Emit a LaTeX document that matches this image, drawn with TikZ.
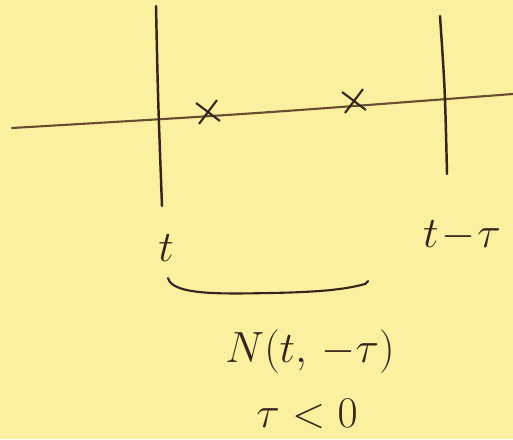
\documentclass[tikz,border=0pt]{standalone}
\usepackage{amsmath}
\usetikzlibrary{shapes.misc}

\definecolor{paper}{RGB}{250,240,160}
\definecolor{ink}{RGB}{55,35,25}
\definecolor{axisink}{RGB}{105,75,50}

\begin{document}
\begin{tikzpicture}[
        x=0.02cm, y=-0.02cm,
        stroke/.style={
            draw=ink,
            line width=1.4pt,
            line cap=round
        },
        axisline/.style={
            draw=axisink,
            line width=1.2pt,
            line cap=round
        },
        tick/.style={
            cross out,
            draw=ink,
            line width=1.2pt,
            minimum size=0.38cm,
            inner sep=0pt
        },
        hand/.style={
            text=ink,
            font=\fontsize{30}{36}\selectfont,
            inner sep=0pt
        }
    ]

    % paper
    \fill[paper] (0,0) rectangle (513,439);
    \useasboundingbox (0,0) rectangle (513,439);

    % time axis
    \coordinate (axL) at (12,128);
    \coordinate (axR) at (513,94);
    \draw[axisline] (axL) .. controls (250,114) .. (axR);

    % the two instants
    \coordinate (tTop) at (156,6);
    \coordinate (tBot) at (162,206);
    \coordinate (sTop) at (440,16);
    \coordinate (sBot) at (447,174);
    \draw[stroke] (tTop) .. controls (158,100) .. (tBot);
    \draw[stroke] (sTop) .. controls (445,90) .. (sBot);

    % events
    \node[tick, rotate=8] (ev1) at (208,112) {};
    \node[tick, rotate=8] (ev2) at (354,101) {};

    \node[hand] (tlab) at (166,248) {$t$};
    \node[hand] (slab) at (462,236) {$t\!-\!\tau$};

    % brace
    \coordinate (brL) at (168,278);
    \coordinate (brR) at (368,281);
    \draw[stroke, line width=1.2pt] (brL) .. controls (172,295) and (220,294) .. (270,293)
        .. controls (330,292) and (350,288) .. (365,284) -- (brR);

    \node[hand] (count) at (310,352) {$N(t,\,-\tau)$};
    \node[hand, font=\fontsize{24}{30}\selectfont] (cond) at (307,414) {$\tau<0$};

\end{tikzpicture}
\end{document}
